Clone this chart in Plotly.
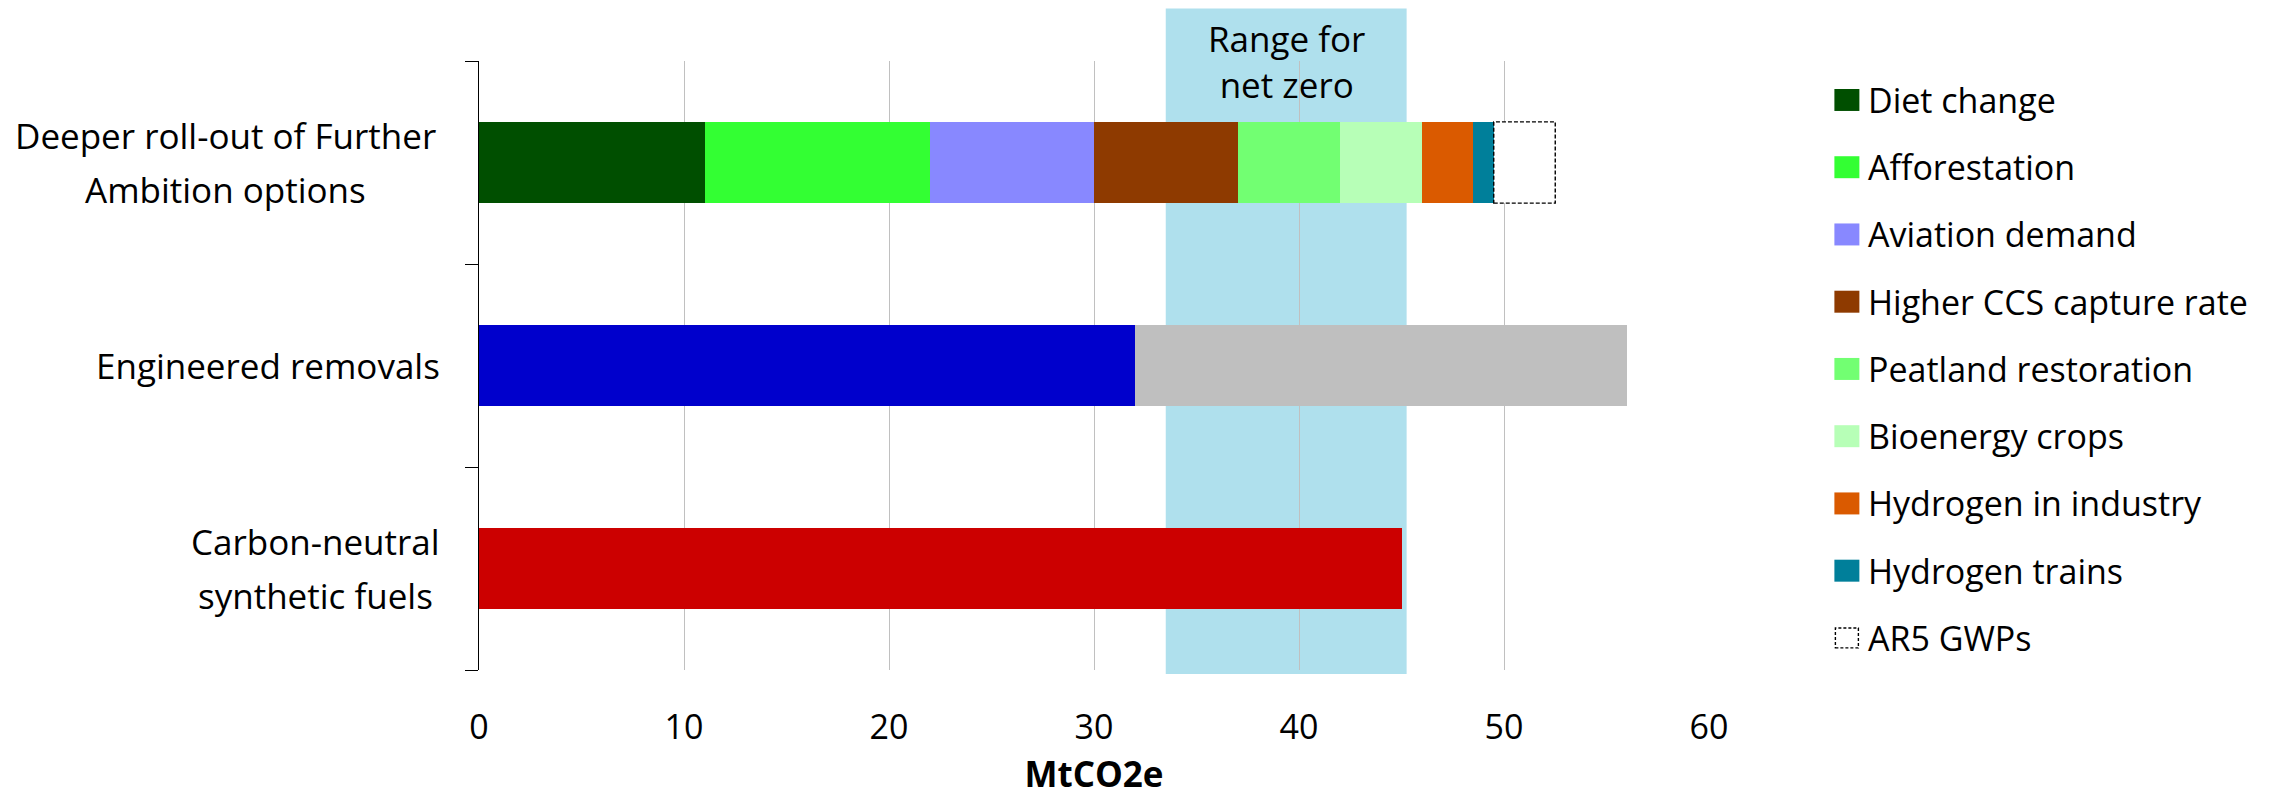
import plotly.graph_objects as go

# ---- data -------------------------------------------------------------
categories = [
    "Carbon-neutral synthetic fuels",
    "Engineered removals",
    "Deeper roll-out of Further Ambition options",
]
category_lines = {
    "Deeper roll-out of Further Ambition options": ["Deeper roll-out of Further", "Ambition options"],
    "Engineered removals": ["Engineered removals"],
    "Carbon-neutral synthetic fuels": ["Carbon-neutral", "synthetic fuels"],
}

further_names = [
    "Diet change", "Afforestation", "Aviation demand", "Higher CCS capture rate",
    "Peatland restoration", "Bioenergy crops", "Hydrogen in industry", "Hydrogen trains",
]
further_values = [11, 11, 8, 7, 5, 4, 2.5, 1]
further_colors = [
    "#004F00", "#33FF33", "#8888FF", "#8E3A00",
    "#72FF72", "#B7FFB7", "#DA5A00", "#007F9A",
]
ar5_name = "AR5 GWPs"
ar5_value = 3

engineered_values = [32, 24]
engineered_colors = ["#0000CC", "#BFBFBF"]

synthetic_value = 45
synthetic_color = "#CC0000"

net_zero_range = [33.5, 45.25]
x_ticks = [0, 10, 20, 30, 40, 50, 60]
x_title = "MtCO2e"

# ---- page geometry (pixels) -----------------------------------------
W, H = 2295, 797
M_L, M_R, M_T, M_B = 478.5, 586.4, 60.5, 127
PW, PH = W - M_L - M_R, H - M_T - M_B
FONT = "Open Sans"
BAR_WIDTH = 0.4


def px_x(px):
    return (px - M_L) / PW


def px_y(py):
    return (H - M_B - py) / PH


fig = go.Figure()

top_cat = categories[2]
for name, val, col in zip(further_names, further_values, further_colors):
    fig.add_trace(go.Bar(
        y=[top_cat], x=[val], orientation="h", name=name,
        marker=dict(color=col, line=dict(width=0)), showlegend=False,
    ))
fig.add_trace(go.Bar(
    y=[top_cat], x=[ar5_value], orientation="h", name=ar5_name,
    marker=dict(color="rgba(255,255,255,1)", line=dict(width=0)), showlegend=False,
))

for val, col in zip(engineered_values, engineered_colors):
    fig.add_trace(go.Bar(
        y=[categories[1]], x=[val], orientation="h",
        marker=dict(color=col, line=dict(width=0)), showlegend=False,
    ))

fig.add_trace(go.Bar(
    y=[categories[0]], x=[synthetic_value], orientation="h",
    marker=dict(color=synthetic_color, line=dict(width=0)), showlegend=False,
))

shapes = []
# shaded net-zero range, extending above the plotting area
shapes.append(dict(
    type="rect", xref="x", yref="paper",
    x0=net_zero_range[0], x1=net_zero_range[1],
    y0=px_y(674), y1=px_y(8),
    fillcolor="#AFE0ED", line=dict(width=0), layer="below",
))
# dashed outline of the AR5 GWPs segment
ar5_start = sum(further_values)
top_idx = categories.index(top_cat)
shapes.append(dict(
    type="rect", xref="x", yref="y",
    x0=ar5_start, x1=ar5_start + ar5_value,
    y0=top_idx - BAR_WIDTH / 2, y1=top_idx + BAR_WIDTH / 2,
    line=dict(color="black", width=1.4, dash="4px,2px"),
    fillcolor="rgba(0,0,0,0)", layer="above",
))

annotations = []
annotations.append(dict(
    x=sum(net_zero_range) / 2, xref="x", y=px_y(61), yref="paper",
    text="Range for<br>net zero", showarrow=False,
    font=dict(family=FONT, size=35, color="black"),
    xanchor="center", yanchor="middle", align="center",
))

# category labels, centred line by line
label_centres = {categories[2]: 225, categories[1]: 300, categories[0]: 315}
for ci, cat in enumerate(categories):
    lines = category_lines[cat]
    n = len(lines)
    for li, line in enumerate(lines):
        shift = (n - 1) / 2 * 54 - li * 54
        if n == 1:
            ann = dict(x=px_x(441), xanchor="right")
        else:
            ann = dict(x=px_x(label_centres[cat]), xanchor="center")
        ann.update(
            xref="paper", y=cat, yref="y", yshift=shift,
            text=line, showarrow=False, yanchor="middle",
            font=dict(family=FONT, size=35, color="black"),
        )
        annotations.append(ann)

# legend: coloured swatches with names
legend_names = further_names + [ar5_name]
legend_colors = further_colors + [None]
for i, (name, col) in enumerate(zip(legend_names, legend_colors)):
    yc = 99.5 + i * 67.3
    if col is None:
        shapes.append(dict(
            type="rect", xref="paper", yref="paper",
            x0=px_x(1835), x1=px_x(1858), y0=px_y(yc + 10), y1=px_y(yc - 10),
            line=dict(color="black", width=1.4, dash="3px,2px"),
            fillcolor="white",
        ))
    else:
        shapes.append(dict(
            type="rect", xref="paper", yref="paper",
            x0=px_x(1834), x1=px_x(1859), y0=px_y(yc + 11), y1=px_y(yc - 11),
            line=dict(width=0), fillcolor=col,
        ))
    annotations.append(dict(
        x=px_x(1866), xref="paper", y=px_y(yc), yref="paper",
        text=name, showarrow=False, xanchor="left", yanchor="middle",
        font=dict(family=FONT, size=34, color="black"),
    ))

fig.update_layout(
    width=W, height=H, autosize=False,
    margin=dict(l=M_L, r=M_R, t=M_T, b=M_B, pad=0),
    barmode="stack", bargap=1 - BAR_WIDTH,
    plot_bgcolor="white", paper_bgcolor="white",
    font=dict(family=FONT, color="black"),
    shapes=shapes, annotations=annotations, showlegend=False,
)
fig.update_xaxes(
    range=[0, 60], tickvals=x_ticks, ticktext=[str(t) for t in x_ticks],
    showgrid=True, gridcolor="#C0C0C0", gridwidth=1.3,
    zeroline=False, showline=False, ticks="",
    tickfont=dict(family=FONT, size=34, color="black"),
    ticklabelstandoff=34, automargin=False,
    title=dict(text="<b>" + x_title + "</b>", font=dict(family=FONT, size=35, color="black"),
               standoff=18),
)
fig.update_yaxes(
    type="category", categoryorder="array", categoryarray=categories,
    range=[-0.5, 2.5], showgrid=False, zeroline=False,
    showline=True, linecolor="black", linewidth=1.3,
    ticks="outside", ticklen=13, tickcolor="black", tickwidth=1.3,
    tickson="boundaries", showticklabels=False, automargin=False,
)

fig.write_html("out.html")
